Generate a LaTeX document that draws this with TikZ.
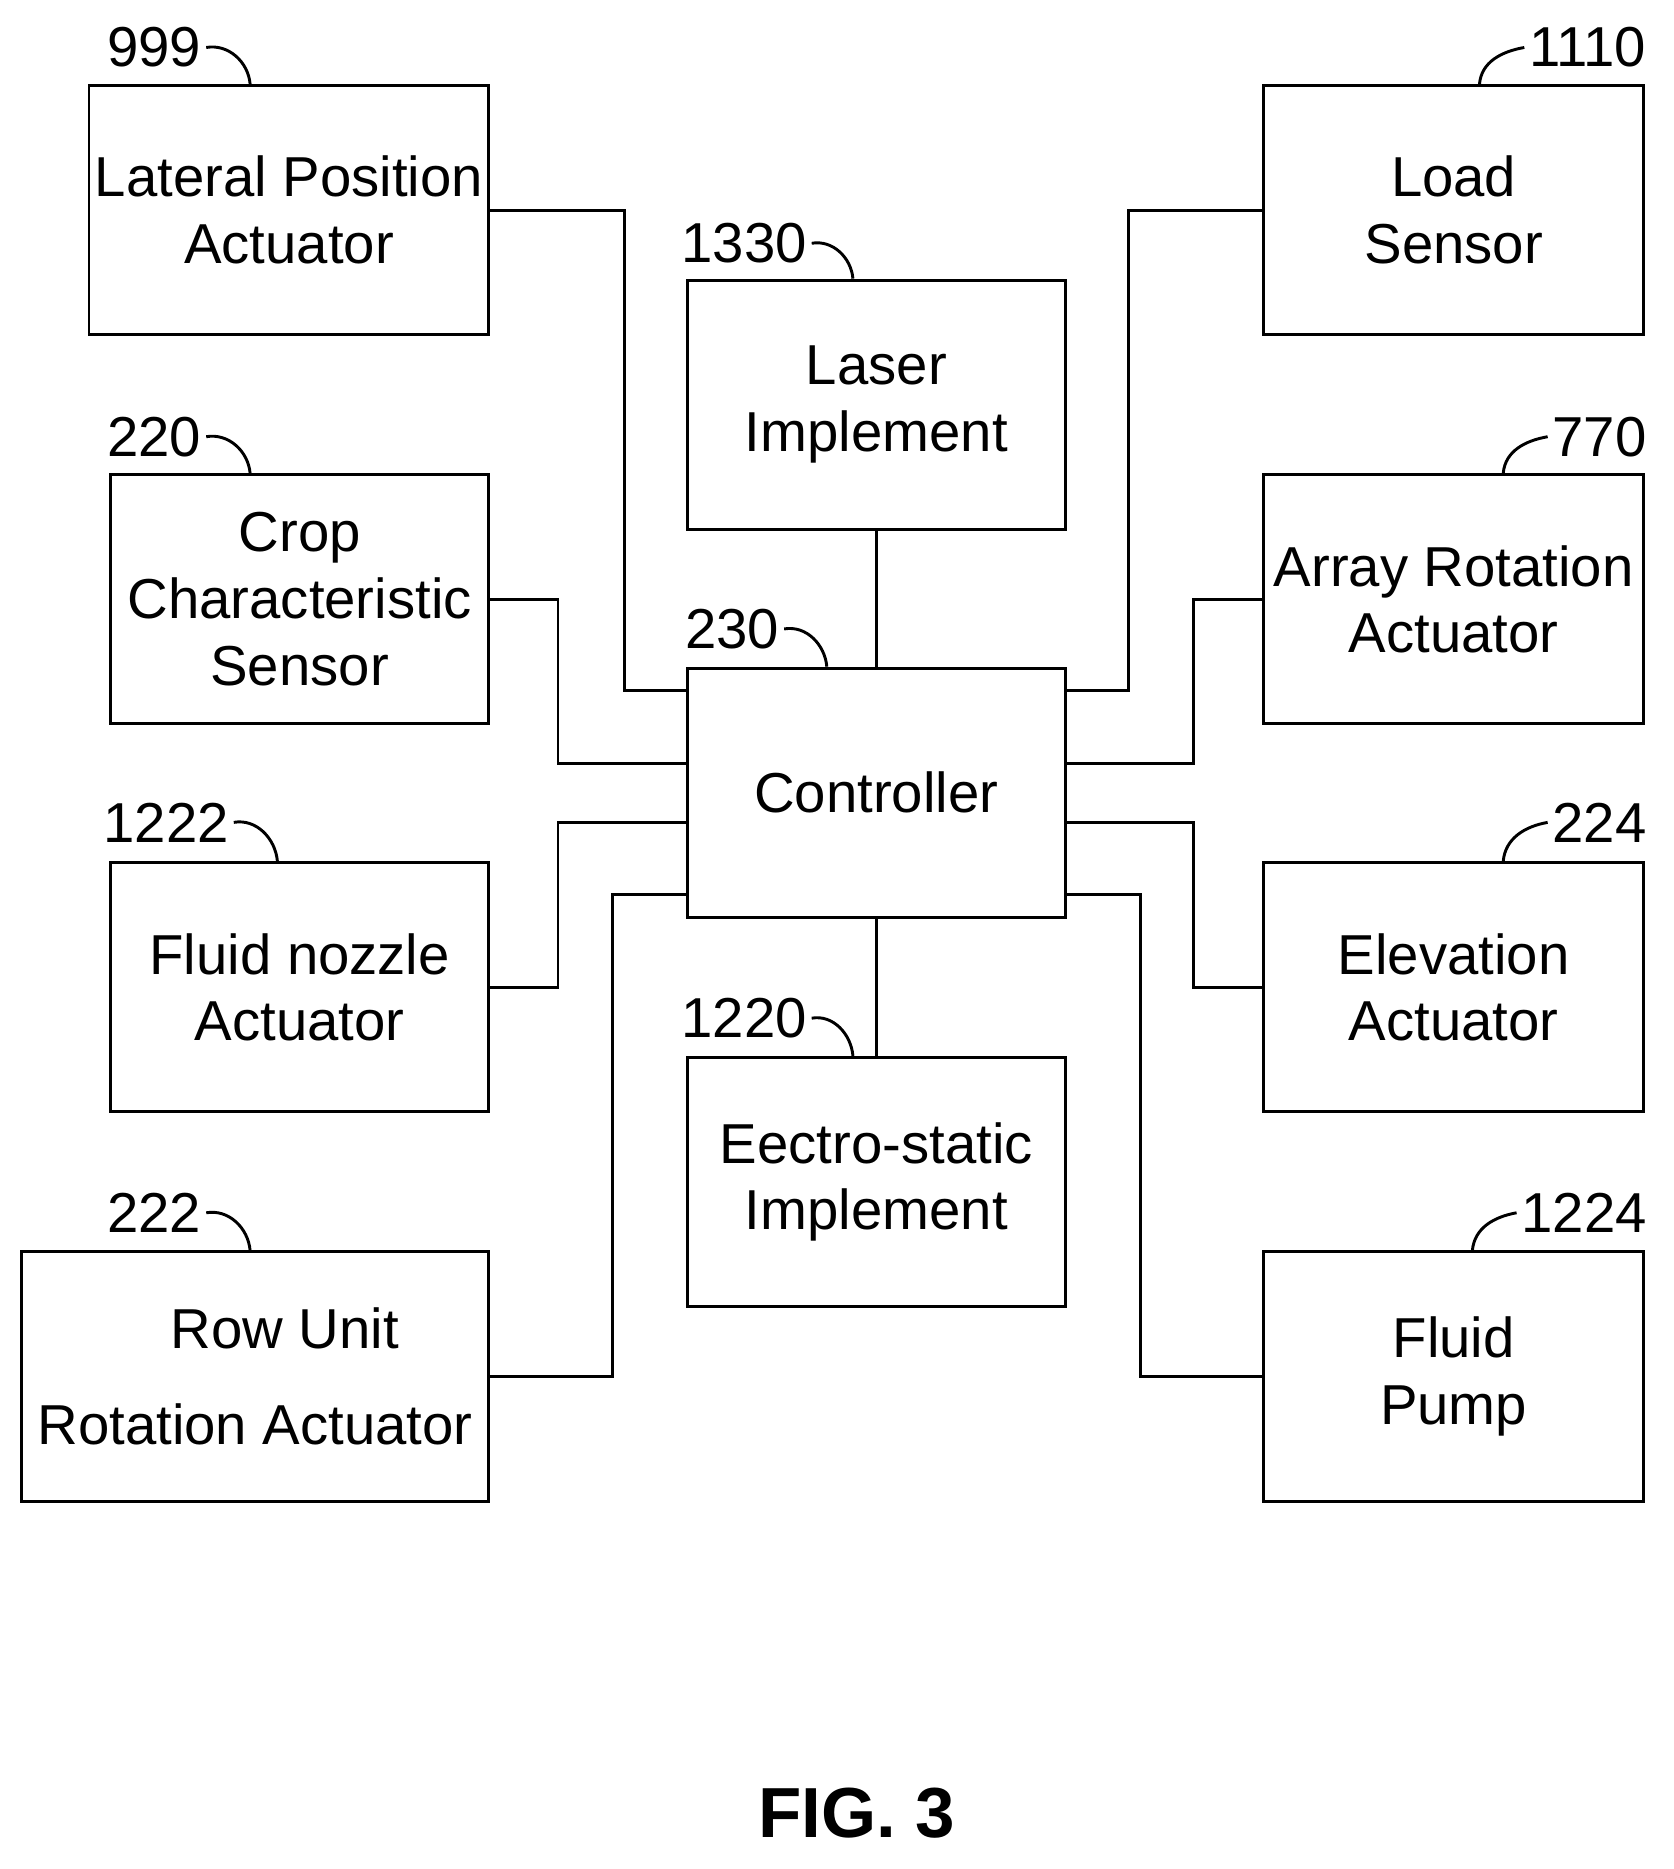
\documentclass[tikz,border=0pt]{standalone}
\usepackage{fontspec}
\setmainfont{Liberation Sans}
\begin{document}
\begin{tikzpicture}[
  box/.style={draw,line width=0.7pt,minimum height=2.10cm,inner sep=0pt,align=center,font=\fontsize{13.5}{16}\selectfont},
  lbl/.style={inner sep=1pt,font=\fontsize{13.5}{16}\selectfont},
  wire/.style={line width=0.7pt},
  lead/.style={line width=0.7pt}]
\useasboundingbox (0,0) rectangle (14.1,-15.75);
% left column
\node[box,minimum width=3.37cm] (lat) at (2.435,-1.77) {Lateral Position\\Actuator};
\node[box,minimum width=3.19cm] (crop) at (2.525,-5.05) {Crop\\Characteristic\\Sensor};
\node[box,minimum width=3.19cm] (noz) at (2.525,-8.32) {Fluid nozzle\\Actuator};
\node[box,minimum width=3.94cm] (row) at (2.15,-11.60) {\hspace*{0.5cm}Row Unit\\[0.25cm]Rotation Actuator};
% middle
\node[box,minimum width=3.19cm] (laser) at (7.385,-3.41) {Laser\\Implement};
\node[box,minimum width=3.19cm] (ctrl) at (7.385,-6.68) {Controller};
\node[box,minimum width=3.19cm] (elec) at (7.385,-9.96) {Eectro-static\\Implement};
% right
\node[box,minimum width=3.20cm] (load) at (12.25,-1.77) {Load\\Sensor};
\node[box,minimum width=3.20cm] (arr) at (12.25,-5.05) {Array Rotation\\Actuator};
\node[box,minimum width=3.20cm] (elev) at (12.25,-8.32) {Elevation\\Actuator};
\node[box,minimum width=3.20cm] (pump) at (12.25,-11.60) {Fluid\\Pump};
% connectors
\draw[wire] (lat.east) -- ++(1.13,0) |- ([yshift=0.86cm]ctrl.west);
\draw[wire] (crop.east) -- ++(0.57,0) |- ([yshift=0.25cm]ctrl.west);
\draw[wire] (noz.east) -- ++(0.57,0) |- ([yshift=-0.25cm]ctrl.west);
\draw[wire] (row.east) -- ++(1.03,0) |- ([yshift=-0.86cm]ctrl.west);
\draw[wire] (laser.south) -- (ctrl.north);
\draw[wire] (ctrl.south) -- (elec.north);
\draw[wire] (load.west) -- ++(-1.13,0) |- ([yshift=0.86cm]ctrl.east);
\draw[wire] (arr.west) -- ++(-0.58,0) |- ([yshift=0.25cm]ctrl.east);
\draw[wire] (elev.west) -- ++(-0.58,0) |- ([yshift=-0.25cm]ctrl.east);
\draw[wire] (pump.west) -- ++(-1.03,0) |- ([yshift=-0.86cm]ctrl.east);
% reference labels
\node[lbl] (l999) at (1.30,-0.40) {999};
\draw[lead] (l999.east) to[out=10,in=95] ([xshift=1.37cm]lat.north west);
\node[lbl] (l220) at (1.30,-3.68) {220};
\draw[lead] (l220.east) to[out=10,in=95] ([xshift=1.19cm]crop.north west);
\node[lbl] (l1222) at (1.40,-6.93) {1222};
\draw[lead] (l1222.east) to[out=10,in=95] ([xshift=1.42cm]noz.north west);
\node[lbl] (l222) at (1.30,-10.22) {222};
\draw[lead] (l222.east) to[out=10,in=95] ([xshift=1.94cm]row.north west);
\node[lbl] (l1330) at (6.27,-2.05) {1330};
\draw[lead] (l1330.east) to[out=10,in=95] ([xshift=1.41cm]laser.north west);
\node[lbl] (l230) at (6.17,-5.30) {230};
\draw[lead] (l230.east) to[out=10,in=95] ([xshift=1.19cm]ctrl.north west);
\node[lbl] (l1220) at (6.27,-8.58) {1220};
\draw[lead] (l1220.east) to[out=10,in=95] ([xshift=1.41cm]elec.north west);
\node[lbl] (l1110) at (13.38,-0.40) {1110};
\draw[lead] ([xshift=1.83cm]load.north west) to[out=85,in=190] (l1110.west);
\node[lbl] (l770) at (13.48,-3.68) {770};
\draw[lead] ([xshift=2.03cm]arr.north west) to[out=85,in=190] (l770.west);
\node[lbl] (l224) at (13.48,-6.93) {224};
\draw[lead] ([xshift=2.03cm]elev.north west) to[out=85,in=190] (l224.west);
\node[lbl] (l1224) at (13.35,-10.22) {1224};
\draw[lead] ([xshift=1.77cm]pump.north west) to[out=85,in=190] (l1224.west);
% caption
\node[font=\fontsize{17}{20}\selectfont\bfseries] (fig) at (7.22,-15.28) {FIG. 3};
\end{tikzpicture}
\end{document}
